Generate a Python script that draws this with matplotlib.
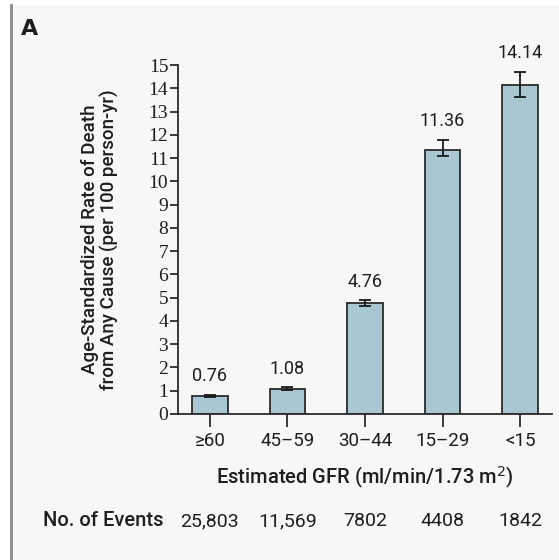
import matplotlib
matplotlib.use("Agg")
import matplotlib.pyplot as plt
from matplotlib.lines import Line2D
from matplotlib.patches import Rectangle

categories = ["\u226560", "45\u201359", "30\u201344", "15\u201329", "<15"]
rates = [0.76, 1.08, 4.76, 11.36, 14.14]
err_low = [0.05, 0.05, 0.10, 0.28, 0.52]
err_high = [0.06, 0.06, 0.12, 0.42, 0.57]
value_labels = ["0.76", "1.08", "4.76", "11.36", "14.14"]
events = ["25,803", "11,569", "7802", "4408", "1842"]
yticks = list(range(0, 16))

sans = ["Roboto", "DejaVu Sans"]
serif = ["Liberation Serif", "DejaVu Serif"]
txt = "#1e1e1e"

fig = plt.figure(figsize=(5.59, 5.6), dpi=100)
fig.patch.set_facecolor("white")
fig.add_artist(Rectangle((11/559, 0), 1 - 11/559, 1 - 5/560, transform=fig.transFigure,
                         facecolor="#f7f7f7", edgecolor="none", zorder=0))
fig.add_artist(Line2D([11/559, 11/559], [0, 1 - 5/560], transform=fig.transFigure,
                      color="#8a8a8a", lw=2))

ax = fig.add_axes([178/559, 1 - 414/560, (552 - 178)/559, (414 - 65)/560])
ax.set_facecolor("none")
x = list(range(len(categories)))
ax.bar(x, rates, width=0.46, color="#a9c7d3", edgecolor="#2b2b2b", linewidth=1.3, zorder=2)
ax.errorbar(x, rates, yerr=[err_low, err_high], fmt="none", ecolor="#1a1a1a",
            elinewidth=1.3, capsize=4, capthick=1.3, zorder=3, clip_on=False)
for xi, r, eh, lab in zip(x, rates, err_high, value_labels):
    ax.annotate(lab, (xi, r + eh), xytext=(0, 7), textcoords="offset points",
                ha="center", va="bottom", fontsize=13, family=sans, color=txt)

ax.set_xlim(-0.41, 4.41)
ax.set_ylim(0, 15)
ax.set_yticks(yticks)
ax.set_yticklabels([str(t) for t in yticks], family=serif, fontsize=14)
ax.set_xticks(x)
ax.set_xticklabels(categories, family=sans, fontsize=13.5)
for s in ["top", "right"]:
    ax.spines[s].set_visible(False)
for s in ["left", "bottom"]:
    ax.spines[s].set_linewidth(1.3)
    ax.spines[s].set_color("#2b2b2b")
ax.tick_params(axis="y", length=6, width=1.3, pad=1, colors="#2b2b2b")
ax.tick_params(axis="x", length=9, width=1.3, pad=4, colors="#2b2b2b")
for lbl in ax.get_xticklabels() + ax.get_yticklabels():
    lbl.set_color(txt)

ax.set_ylabel("Age-Standardized Rate of Death\nfrom Any Cause (per 100 person-yr)",
              family=sans, fontsize=13.5, weight="medium", color=txt, labelpad=21,
              linespacing=1.1)
ax.set_xlabel("Estimated GFR (ml/min/1.73 m$^2$)", family=sans, fontsize=14.5,
              weight="medium", color=txt, labelpad=11)

fig.text(21/559, 1 - 29/560, "A", family=["DejaVu Sans"], fontsize=16, weight="bold",
         ha="left", va="center", color=txt)
fig.text(43/559, 1 - 521/560, "No. of Events", family=sans, fontsize=14.5, weight="medium",
         ha="left", va="center", color=txt)
for xi, ev in zip(x, events):
    ax.annotate(ev, (xi, 0), xycoords=("data", "axes fraction"),
                xytext=(0, -(521 - 414) * 72 / 100), textcoords="offset points",
                family=sans, fontsize=14, ha="center", va="center", color=txt,
                annotation_clip=False)

fig.savefig("out.png", dpi=100)
